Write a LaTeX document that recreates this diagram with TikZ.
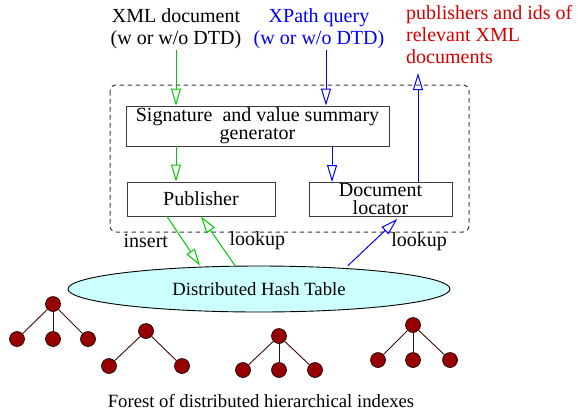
\documentclass[tikz,border=0pt]{standalone}
\usepackage{fontspec}
\setmainfont{Liberation Serif}
\usetikzlibrary{shapes}
\usetikzlibrary{arrows.meta}
\usetikzlibrary{positioning}
\definecolor{fgreen}{RGB}{0,200,0}
\definecolor{fblue}{RGB}{0,0,255}
\definecolor{fred}{RGB}{215,0,0}
\definecolor{dhtfill}{RGB}{204,255,255}
\definecolor{treered}{RGB}{150,0,0}
\definecolor{treeedge}{RGB}{60,10,10}
\definecolor{boxgray}{RGB}{60,60,60}
\tikzstyle{txt}=[font=\fontsize{20}{22}\selectfont,inner sep=1pt]
\tikzstyle{module}=[
        rectangle,
        draw=boxgray,
        line width=0.9pt,
        fill=white,
        inner sep=0pt,
        align=center,
        font=\fontsize{20}{18}\selectfont
]
\tikzstyle{frame}=[draw=boxgray,line width=1pt,dash pattern=on 4.5pt off 3.5pt,rounded corners=6pt]
\tikzstyle{dht}=[ellipse,draw=black,line width=0.9pt,fill=dhtfill,minimum width=382pt,minimum height=46pt,inner sep=0pt,font=\fontsize{18.7}{22}\selectfont]
\tikzstyle{vertex}=[circle,draw=black,fill=treered,minimum size=15pt,inner sep=0pt,line width=0.6pt]
\tikzstyle{branch}=[draw=treeedge,line width=0.9pt]
\tikzstyle{garrow}=[draw=fgreen,line width=1pt,-{Triangle[open,length=17pt,width=10pt]}]
\tikzstyle{barrow}=[draw=fblue,line width=1pt,-{Triangle[open,length=17pt,width=10pt]}]
\begin{document}
\begin{tikzpicture}[x=1pt,y=-1pt]
\useasboundingbox (0,0) rectangle (578,416);
\node[txt,align=center] (xml) at (176,29) {XML document\\(w or w/o DTD)};
\node[txt,align=center,text=fblue] (xpath) at (319,29) {XPath query\\(w or w/o DTD)};
\node[txt,align=left,text=fred,anchor=north west,inner sep=0pt] (result) at (406,5) {publishers and ids of\\relevant XML\\documents};
%the peer
\draw[frame] (110,85) rectangle (469,232);
\node[module,minimum width=263pt,minimum height=40pt] (sig) at (257.5,126) {Signature~ and value summary\\generator};
\node[module,minimum width=148pt,minimum height=34pt] (pub) at (201,199) {Publisher};
\node[module,minimum width=143pt,minimum height=34pt] (loc) at (380.5,199.5) {Document\\locator};
\node[dht] (dht) at (259,289) {Distributed Hash Table};
\coordinate (qin) at ([xshift=7pt]xpath.south);
\coordinate (locin) at ([xshift=23.5pt]loc.north west);
\coordinate (out) at (418,73);
%arrows
\draw[garrow] (xml.south) -- (xml.south |- sig.north);
\draw[barrow] (qin) -- (qin |- sig.north);
\draw[garrow] (sig.south -| xml.south) -- (pub.north -| xml.south);
\draw[barrow] (sig.south -| locin) -- (locin);
\draw[barrow] (loc.north -| out) -- (out);

\draw[garrow] ([xshift=-34pt]pub.south) -- ([xshift=-59pt]dht.north) node[txt,midway,left=14pt]{insert};
\draw[garrow] ([xshift=-24pt]dht.north) -- (pub.south) node[txt,midway,right=10pt]{lookup};
\draw[barrow,shorten >=3pt] ([xshift=89pt]dht.north) -- ([xshift=19pt]loc.south) node[txt,midway,right=16pt]{lookup};
%the forest
\node[vertex] (t1r) at (53,304) {};
\node[vertex] (t1a) at (17,339) {};
\node[vertex] (t1b) at (53,339) {};
\node[vertex] (t1c) at (88,339) {};
\node[vertex] (t2r) at (146,331) {};
\node[vertex] (t2a) at (109,366) {};
\node[vertex] (t2b) at (182,366) {};
\node[vertex] (t3r) at (279,336) {};
\node[vertex] (t3a) at (243,370) {};
\node[vertex] (t3b) at (279,370) {};
\node[vertex] (t3c) at (315,370) {};
\node[vertex] (t4r) at (413,325) {};
\node[vertex] (t4a) at (378,360) {};
\node[vertex] (t4b) at (413,360) {};
\node[vertex] (t4c) at (450,360) {};
\draw[branch] (t1r) -- (t1a);
\draw[branch] (t1r) -- (t1b);
\draw[branch] (t1r) -- (t1c);
\draw[branch] (t2r) -- (t2a);
\draw[branch] (t2r) -- (t2b);
\draw[branch] (t3r) -- (t3a);
\draw[branch] (t3r) -- (t3b);
\draw[branch] (t3r) -- (t3c);
\draw[branch] (t4r) -- (t4a);
\draw[branch] (t4r) -- (t4b);
\draw[branch] (t4r) -- (t4c);
\node[txt,font=\fontsize{18.7}{22}\selectfont] (forest) at (261,401) {Forest of distributed hierarchical indexes};
\end{tikzpicture}
\end{document}
